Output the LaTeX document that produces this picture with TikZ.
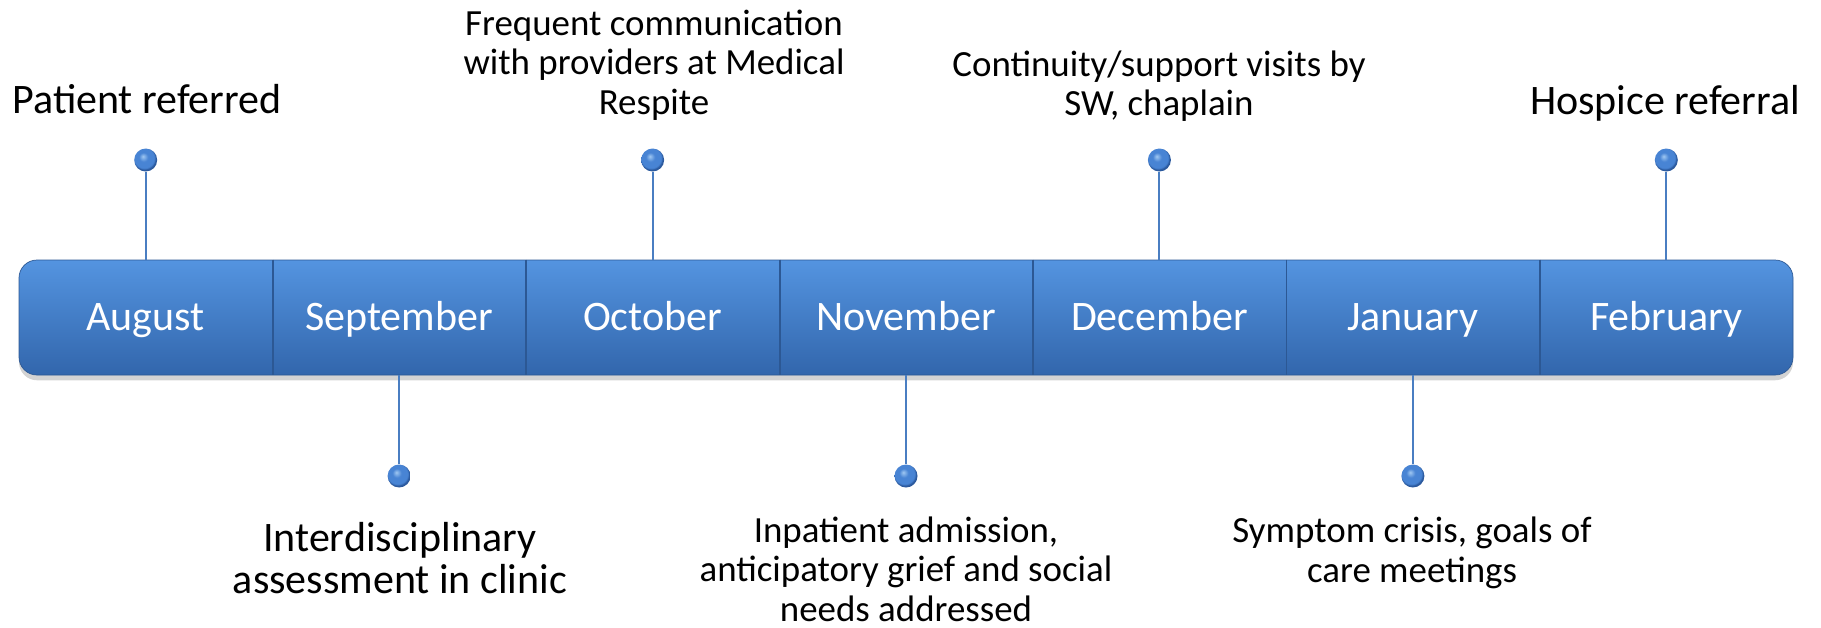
\documentclass[tikz,border=0pt]{standalone}
\usepackage{fontspec}
\setmainfont{Carlito}
\usetikzlibrary{shadows}

\definecolor{barblue}{RGB}{64,128,207}
\definecolor{bartop}{RGB}{84,148,224}
\definecolor{barbottom}{RGB}{50,102,172}
\definecolor{baredge}{RGB}{44,88,148}
\definecolor{stemblue}{RGB}{74,126,194}
\definecolor{beadlight}{RGB}{160,200,242}
\definecolor{beadblue}{RGB}{72,132,212}
\definecolor{beaddark}{RGB}{42,88,156}

\pgfdeclareradialshading{beadshade}{\pgfpoint{-6bp}{8bp}}{%
    color(0bp)=(beadlight); color(10bp)=(beadblue); color(22bp)=(beadblue);
    color(25bp)=(beaddark); color(50bp)=(beaddark)}

\tikzset{
    month/.style={minimum width=5.068cm, minimum height=2.3cm, inner sep=0pt,
        text height=17.9pt, text depth=3.6pt,
        text=white, font=\fontsize{23.9}{23.9}\selectfont},
    bead/.style={circle, minimum size=0.46cm, inner sep=0pt, shading=beadshade},
    stem/.style={draw=stemblue, line width=1.1pt},
    seam/.style={draw=baredge, line width=1pt},
    bigtext/.style={align=center, inner sep=0pt, font=\fontsize{23.9}{23.9}\selectfont},
    smalltext/.style={align=center, inner sep=0pt, font=\fontsize{21}{22.5}\selectfont},
}

\begin{document}
\begin{tikzpicture}[x=0.02cm,y=-0.02cm]
\useasboundingbox (0,0) rectangle (1821,627);

% Timeline bar
\path
[
    drop shadow={opacity=0.35, shadow xshift=0pt, shadow yshift=-3pt},
    top color=bartop,
    middle color=barblue,
    bottom color=barbottom,
    draw=baredge,
    rounded corners=0.36cm
] (19,260) rectangle (1793,375);

% Months
\node[month] (aug) at (145.7,317.5) {August};
\node[month] (sep) at (399.1,317.5) {September};
\node[month] (oct) at (652.6,317.5) {October};
\node[month] (nov) at (906.0,317.5) {November};
\node[month] (dec) at (1159.4,317.5) {December};
\node[month] (jan) at (1412.9,317.5) {January};
\node[month] (feb) at (1666.3,317.5) {February};

% Seams between months
\draw[seam] (aug.north east) -- (aug.south east);
\draw[seam] (sep.north east) -- (sep.south east);
\draw[seam] (oct.north east) -- (oct.south east);
\draw[seam] (nov.north east) -- (nov.south east);
\draw[seam] (dec.north east) -- (dec.south east);
\draw[seam] (jan.north east) -- (jan.south east);

% Beads above
\node[bead] (augbead) at (145.7,160) {};
\node[bead] (octbead) at (652.6,160) {};
\node[bead] (decbead) at (1159.4,160) {};
\node[bead] (febbead) at (1666.3,160) {};
\draw[stem] (aug.north) -- (augbead);
\draw[stem] (oct.north) -- (octbead);
\draw[stem] (dec.north) -- (decbead);
\draw[stem] (feb.north) -- (febbead);

% Beads below
\node[bead] (sepbead) at (399.1,476) {};
\node[bead] (novbead) at (906.0,476) {};
\node[bead] (janbead) at (1412.9,476) {};
\draw[stem] (sep.south) -- (sepbead);
\draw[stem] (nov.south) -- (novbead);
\draw[stem] (jan.south) -- (janbead);

% Events
\node[bigtext] (referred) at (147,99) {Patient referred};
\node[smalltext] (communication) at (654,65) {Frequent communication\\with providers at Medical\\Respite};
\node[smalltext] (continuity) at (1159,86) {Continuity/support visits by\\SW, chaplain};
\node[bigtext] (hospice) at (1665,103) {Hospice referral};
\node[bigtext] (assessment) at (400,558) {Interdisciplinary\\assessment in clinic};
\node[smalltext] (admission) at (906,569) {Inpatient admission,\\anticipatory grief and social\\needs addressed};
\node[smalltext] (crisis) at (1412,553) {Symptom crisis, goals of\\care meetings};
\end{tikzpicture}
\end{document}
